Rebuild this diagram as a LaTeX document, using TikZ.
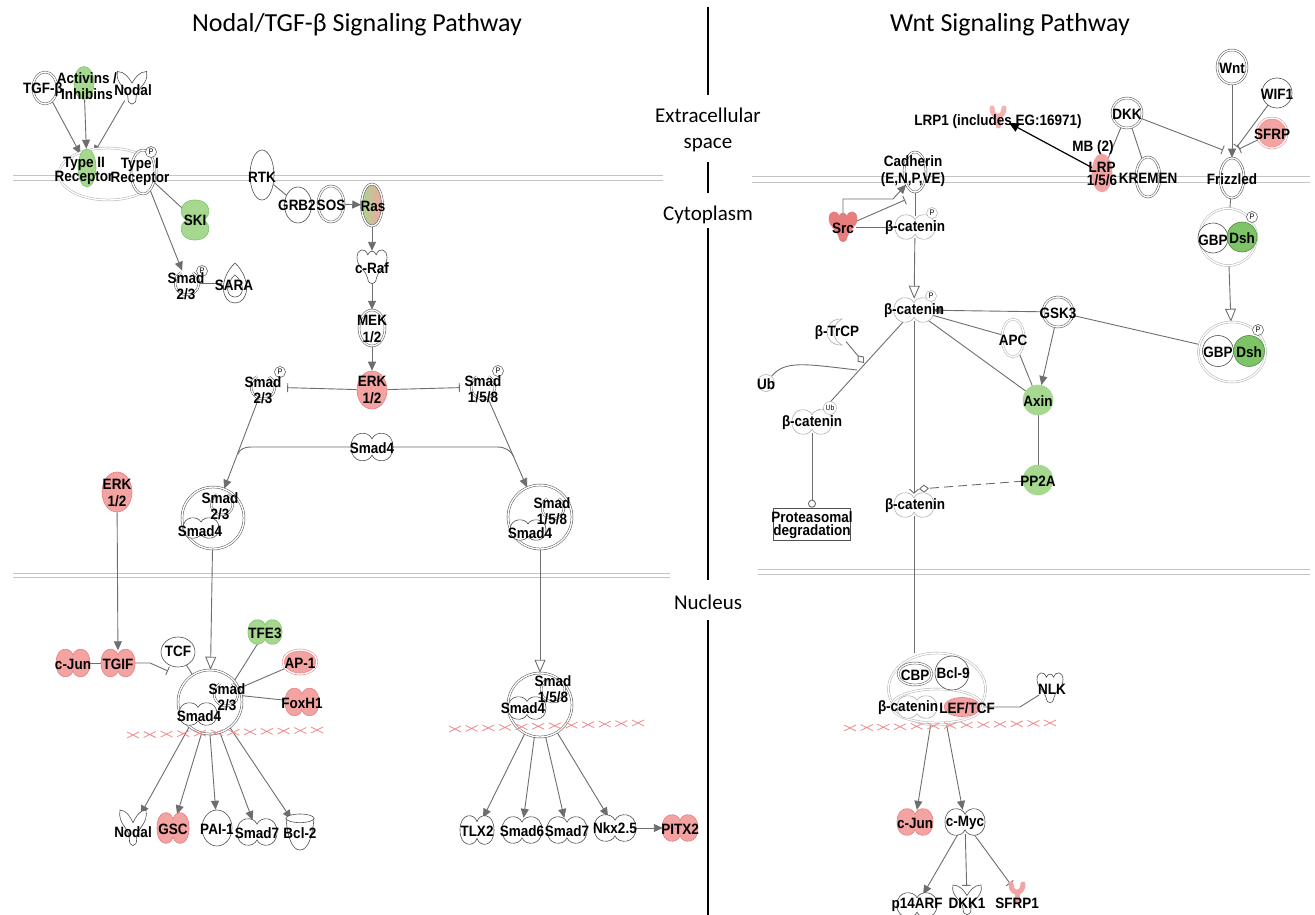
\documentclass[tikz,border=0pt]{standalone}
\usepackage{fontspec}
\setmainfont{Liberation Sans}
\newfontfamily\nf[FakeStretch=0.9]{Liberation Sans}
\newfontfamily\tf{Carlito}
\usetikzlibrary{arrows.meta,shapes.geometric}
\pgfdeclarelayer{paper}
\pgfdeclarelayer{bg}
\pgfsetlayers{paper,bg,main}
\definecolor{lc}{HTML}{6E6E6E}
\definecolor{oc}{HTML}{505050}
\definecolor{lg}{HTML}{B0B0B0}
\definecolor{mem}{HTML}{C4C4C4}
\definecolor{gfill}{HTML}{A6D98F}
\definecolor{gdark}{HTML}{7CC466}
\definecolor{pfill}{HTML}{F4A3A3}
\definecolor{pdark}{HTML}{E77D7D}
\definecolor{xred}{HTML}{F08A8A}
\tikzset{
 lbl/.style={font=\nf\bfseries\fontsize{15}{16.5}\selectfont, inner sep=0, align=center, text=black},
 tight/.style={font=\nf\bfseries\fontsize{15}{13.5}\selectfont},
 ttl/.style={font=\tf\fontsize{26}{28}\selectfont, inner sep=0},
 cmp/.style={font=\tf\fontsize{21}{26}\selectfont, inner sep=0, align=center},
 ent/.style={ellipse, inner sep=0, draw=oc, line width=0.6pt, fill=white},
 dbl/.style={ent, double=white, double distance=1.4pt, line width=0.5pt},
 ldbl/.style={dbl, draw=lg},
 anc/.style={ellipse, inner sep=0, draw=none},
 pc/.style={circle, draw=oc, fill=white, line width=0.5pt, inner sep=0, minimum size=11pt, font=\nf\fontsize{8}{8}\selectfont},
 con/.style={draw=lc, line width=0.9pt},
 act/.style={con, -{Triangle[length=9pt,width=8pt]}},
 opn/.style={con, -{Triangle[open,length=13pt,width=11pt,fill=white]}},
 inh/.style={con, -{Bar[width=9pt]}},
 mb/.style={draw=mem, line width=0.9pt},
 sz/.style 2 args={minimum width=#1pt, minimum height=#2pt},
 pics/pea/.style n args={4}{code={
   \draw[draw=#4, line width=0.6pt, fill=#3] (-#1/2,0) .. controls (-#1/2,-#2*0.62) and (-#1*0.08,-#2*0.62) .. (0,-#2*0.3) .. controls (#1*0.08,-#2*0.62) and (#1/2,-#2*0.62) .. (#1/2,0) .. controls (#1/2,#2*0.62) and (#1*0.08,#2*0.62) .. (0,#2*0.3) .. controls (-#1*0.08,#2*0.62) and (-#1/2,#2*0.62) .. cycle;
 }},
 pics/kin/.style n args={4}{code={
   \draw[draw=#4, line width=0.6pt, fill=#3] (-#1*0.5,-#2*0.28) .. controls (-#1*0.5,-#2*0.55) and (-#1*0.22,-#2*0.58) .. (-#1*0.14,-#2*0.36) .. controls (-#1*0.08,-#2*0.5) and (#1*0.08,-#2*0.5) .. (#1*0.14,-#2*0.36) .. controls (#1*0.22,-#2*0.58) and (#1*0.5,-#2*0.55) .. (#1*0.5,-#2*0.28) .. controls (#1*0.5,#2*0.02) and (#1*0.18,#2*0.1) .. (#1*0.15,#2*0.32) .. controls (#1*0.12,#2*0.55) and (-#1*0.12,#2*0.55) .. (-#1*0.15,#2*0.32) .. controls (-#1*0.18,#2*0.1) and (-#1*0.5,#2*0.02) .. cycle;
 }},
 pics/gf/.style n args={4}{code={
   \draw[draw=#4, line width=0.6pt, fill=#3] (-#1*0.5,-#2*0.5) .. controls (-#1*0.25,-#2*0.5) and (-#1*0.1,-#2*0.3) .. (0,-#2*0.15) .. controls (#1*0.1,-#2*0.3) and (#1*0.25,-#2*0.5) .. (#1*0.5,-#2*0.5) .. controls (#1*0.6,-#2*0.1) and (#1*0.12,0) .. (#1*0.14,#2*0.3) .. controls (#1*0.16,#2*0.55) and (-#1*0.16,#2*0.55) .. (-#1*0.14,#2*0.3) .. controls (-#1*0.12,0) and (-#1*0.6,-#2*0.1) .. cycle;
 }},
 pics/sm/.style={code={
   \draw[draw=oc, line width=0.5pt, double=white, double distance=1.3pt] (-60:#1) arc[start angle=-60, end angle=240, radius=#1];
 }},
 pics/td/.style 2 args={code={
   \draw[draw=oc, line width=0.6pt, fill=white] (0,-#2*0.5) .. controls (#1*0.6,-#2*0.1) and (#1*0.5,#2*0.5) .. (0,#2*0.5) .. controls (-#1*0.5,#2*0.5) and (-#1*0.6,-#2*0.1) .. cycle;
   \draw[draw=oc, line width=0.6pt] (0,-#2*0.2) .. controls (#1*0.4,#2*0.05) and (#1*0.3,#2*0.35) .. (0,#2*0.35) .. controls (-#1*0.3,#2*0.35) and (-#1*0.4,#2*0.05) .. cycle;
 }},
 pics/cup/.style 2 args={code={
   \draw[draw=oc, line width=0.6pt, fill=white] (-#1*0.5,-#2*0.38) .. controls (-#1*0.45,#2*0.1) and (-#1*0.3,#2*0.5) .. (0,#2*0.5) .. controls (#1*0.3,#2*0.5) and (#1*0.45,#2*0.1) .. (#1*0.5,-#2*0.38);
   \draw[draw=oc, line width=0.6pt, fill=white] (0,-#2*0.38) ellipse[x radius=#1*0.5, y radius=#2*0.12];
 }},
 pics/yr/.style={code={
   \draw[#1, line width=5pt, line cap=round] (-6,-9) .. controls (-6,2) and (6,2) .. (6,-9);
   \draw[#1, line width=5pt, line cap=round] (0,-1) -- (0,9);
 }},
 pics/cres/.style={code={
   \draw[draw=lg, line width=0.6pt, fill=white] (4,-13) .. controls (-16,-14) and (-16,14) .. (4,13) .. controls (-7,7) and (-7,-7) .. cycle;
 }},
}
\newcommand\xrow[5]{%
 \foreach \i in {0,...,#5}{%
   \pgfmathsetmacro\cx{#1+\i*(#3-#1)/#5}%
   \pgfmathsetmacro\cy{#2+\i*(#4-#2)/#5}%
   \draw[xred, line width=0.8pt] (\cx-6,\cy-3) -- (\cx+6,\cy+3) (\cx-6,\cy+3) -- (\cx+6,\cy-3);
 }}
\begin{document}
\begin{tikzpicture}[x=1pt,y=-1pt]
\useasboundingbox (0,0) rectangle (1315,915);
\begin{pgfonlayer}{paper}
\fill[white] (0,0) rectangle (1315,915);
\end{pgfonlayer}

% ---------- titles and compartments
\node[ttl] (tleft) at (357,25) {Nodal/TGF-β Signaling Pathway};
\node[ttl] (tright) at (1010,25) {Wnt Signaling Pathway};
\node[cmp] (cext) at (708,130) {Extracellular\\space};
\node[cmp] (ccyt) at (708,215) {Cytoplasm};
\node[cmp] (cnuc) at (708,602) {Nucleus};

% ---------- LEFT: receptors
\node[dbl, sz={24}{32}] (tgfb) at (45,88) {};
\node[ent, fill=gfill, draw=gdark, sz={20}{33}] (act) at (84,83) {};
\pic at (132,88) {gf={29}{33}{white}{oc}};
\node[anc, sz={26}{30}] (nodal1) at (132,88) {};
\node[ldbl, sz={98}{52}] (rc) at (108,174) {};
\node[ent, fill=gfill, draw=gdark, sz={18}{38}] (t2) at (87,168) {};
\node[dbl, sz={24}{44}] (t1) at (143,172) {};
\node[pc] (t1p) at (151,152) {P};
\pic[rotate=90] at (195,220) {pea={40}{27}{gfill}{gdark}};
\node[anc, sz={26}{38}] (ski) at (195,220) {};
\pic at (187,283) {sm=12};
\node[anc, sz={26}{26}] (s23a) at (187,283) {};
\node[pc] (s23ap) at (202,271) {P};
\pic at (235,283) {td={28}{40}};
\node[anc, sz={26}{38}] (sara) at (235,283) {};

% RTK cascade
\node[ent, sz={24}{50}] (rtk) at (262,175) {};
\node[ent, sz={27}{36}] (grb2) at (298,205) {};
\node[dbl, sz={26}{36}] (sos) at (331,204) {};
\node[dbl, left color=gfill, right color=pfill, sz={21}{42}] (ras) at (372,205) {};
\pic at (372,267) {kin={30}{34}{white}{oc}};
\node[anc, sz={26}{32}] (craf) at (372,267) {};
\node[dbl, sz={26}{36}] (mek) at (372,328) {};
\node[ent, fill=pfill, draw=pdark, sz={30}{38}] (erk) at (372,390) {};

% Smads
\pic at (263,387) {sm=12};
\node[anc, sz={26}{26}] (s23b) at (263,387) {};
\node[pc] (s23bp) at (280,372) {P};
\pic at (483,387) {sm=12};
\node[anc, sz={26}{26}] (s158a) at (483,387) {};
\node[pc] (s158ap) at (498,371) {P};
\pic at (372,447) {pea={42}{27}{white}{oc}};
\node[anc, sz={40}{25}] (smad4) at (372,447) {};

\node[dbl, circle, minimum size=62pt] (cplx1) at (213,518) {};
\pic at (222,504) {sm=11};
\pic at (201,528) {pea={36}{20}{white}{oc}};
\node[dbl, circle, minimum size=64pt] (cplx2) at (540,517) {};
\pic at (553,508) {sm=11};
\pic at (528,530) {pea={36}{20}{white}{oc}};

\node[ent, fill=pfill, draw=pdark, sz={30}{40}] (erk2) at (117,492) {};

% nucleus left
\pic at (73,663) {pea={34}{27}{pfill}{pdark}};
\node[anc, sz={32}{25}] (cjun) at (73,663) {};
\pic at (118,663) {pea={34}{27}{pfill}{pdark}};
\node[anc, sz={32}{25}] (tgif) at (118,663) {};
\node[ent, sz={34}{30}] (tcf) at (178,652) {};
\node[dbl, circle, minimum size=64pt] (cplx3) at (210,702) {};
\pic at (226,694) {sm=12};
\node[anc, sz={24}{24}] (s23c) at (226,694) {};
\pic at (198,714) {pea={38}{22}{white}{oc}};
\pic at (265,632) {pea={34}{24}{gfill}{gdark}};
\node[anc, sz={32}{22}] (tfe3) at (265,632) {};
\node[dbl, fill=pfill, draw=pdark, sz={34}{24}] (ap1) at (300,662) {};
\pic at (302,702) {pea={34}{27}{pfill}{pdark}};
\node[anc, sz={32}{25}] (foxh1) at (302,702) {};

\pic at (133,828) {gf={26}{36}{white}{oc}};
\node[anc, sz={24}{34}] (nodal2) at (133,828) {};
\pic at (173,828) {pea={32}{30}{pfill}{pdark}};
\node[anc, sz={30}{28}] (gsc) at (173,828) {};
\node[ent, sz={30}{36}] (pai1) at (217,828) {};
\pic at (257,832) {pea={40}{26}{white}{oc}};
\node[anc, sz={38}{24}] (smad7a) at (257,832) {};
\pic at (300,832) {cup={28}{36}};
\node[anc, sz={26}{34}] (bcl2) at (300,832) {};

% nucleus middle
\node[dbl, circle, minimum size=64pt] (cplx4) at (540,705) {};
\pic at (553,690) {sm=12};
\pic at (527,708) {pea={38}{22}{white}{oc}};
\pic at (477,830) {pea={34}{28}{white}{oc}};
\node[anc, sz={32}{26}] (tlx2) at (477,830) {};
\pic at (522,830) {pea={40}{26}{white}{oc}};
\node[anc, sz={38}{24}] (smad6) at (522,830) {};
\pic at (567,830) {pea={40}{26}{white}{oc}};
\node[anc, sz={38}{24}] (smad7b) at (567,830) {};
\pic at (615,828) {pea={42}{26}{white}{oc}};
\node[anc, sz={40}{24}] (nkx) at (615,828) {};
\pic at (680,828) {pea={36}{26}{pfill}{pdark}};
\node[anc, sz={34}{24}] (pitx2) at (680,828) {};

% ---------- RIGHT: Wnt
\node[dbl, sz={30}{34}] (wnt) at (1232,67) {};
\node[ent, circle, minimum size=30pt] (wif1) at (1277,93) {};
\node[dbl, circle, fill=pfill, draw=pdark, minimum size=30pt] (sfrp) at (1272,133) {};
\node[dbl, circle, minimum size=30pt] (dkk) at (1127,113) {};
\pic at (998,117) {yr=pfill!85!white};
\node[anc, sz={24}{26}] (lrp1) at (998,117) {};
\node[ent, fill=pfill, draw=pfill, sz={20}{38}] (lrp) at (1102,173) {};
\node[dbl, sz={24}{40}] (kremen) at (1148,177) {};
\node[dbl, sz={24}{40}] (fzd) at (1232,178) {};
\node[dbl, sz={22}{40}] (cad) at (915,172) {};
\pic at (843,227) {kin={28}{30}{pdark}{pdark}};
\node[anc, sz={26}{28}] (src) at (843,227) {};
\pic at (915,227) {pea={40}{24}{white}{lg}};
\node[anc, sz={38}{22}] (bc1) at (915,227) {};
\node[pc, draw=lg] (bc1p) at (932,213) {P};

\node[ldbl, circle, minimum size=57pt] (dc1) at (1228,237) {};
\node[ent, circle, minimum size=30pt] (gbp1) at (1213,238) {};
\node[ent, circle, fill=gdark, draw=gdark!70!black, minimum size=30pt] (dsh1) at (1242,237) {};
\node[pc] (dsh1p) at (1252,217) {P};

\pic at (914,310) {pea={40}{24}{white}{lg}};
\node[anc, sz={38}{22}] (bc2) at (914,310) {};
\node[pc, draw=lg] (bc2p) at (931,296) {P};
\pic at (838,332) {cres};
\node[anc, sz={22}{28}] (btrcp) at (838,332) {};
\node[ent, circle, draw=lg, minimum size=17pt] (ub) at (766,383) {};
\pic at (812,422) {pea={40}{24}{white}{lg}};
\node[anc, sz={38}{22}] (bc3) at (812,422) {};
\node[pc, draw=lg, minimum size=13pt, font=\nf\fontsize{7.5}{8}\selectfont] (bc3u) at (830,408) {Ub};
\node[draw=oc, line width=0.6pt, minimum width=77pt, minimum height=32pt, inner sep=0] (prot) at (812,524) {};
\pic at (914,505) {pea={40}{24}{white}{lg}};
\node[anc, sz={38}{22}] (bc4) at (914,505) {};
\node[ldbl, sz={22}{38}] (apc) at (1013,338) {};
\node[dbl, circle, minimum size=30pt] (gsk3) at (1058,312) {};
\node[ent, circle, fill=gfill, draw=gfill, minimum size=30pt] (axin) at (1038,400) {};
\node[ent, circle, fill=gfill, draw=gfill, minimum size=30pt] (pp2a) at (1038,480) {};
\node[ldbl, sz={67}{60}] (dc2) at (1232,352) {};
\node[ent, circle, minimum size=31pt] (gbp2) at (1218,351) {};
\node[ent, circle, fill=gdark, draw=gdark!70!black, minimum size=31pt] (dsh2) at (1249,351) {};
\node[pc] (dsh2p) at (1258,330) {P};

% nucleus right
\node[ldbl, sz={97}{72}] (ncx) at (937,689) {};
\node[ldbl, sz={91}{34}] (ncin) at (937,706) {};
\node[dbl, sz={34}{22}] (cbp) at (915,674) {};
\node[ent, circle, minimum size=34pt] (bcl9) at (952,673) {};
\pic at (917,707) {pea={40}{22}{white}{lg}};
\node[ent, fill=pfill, draw=pdark, sz={36}{19}] (lef) at (962,707) {};
\pic at (1050,688) {kin={26}{30}{white}{oc}};
\node[anc, sz={24}{28}] (nlk) at (1050,688) {};
\pic at (915,822) {pea={36}{26}{pfill}{pdark}};
\node[anc, sz={34}{24}] (cjun2) at (915,822) {};
\pic at (965,822) {pea={40}{26}{white}{oc}};
\node[anc, sz={38}{24}] (cmyc) at (965,822) {};
\pic at (917,905) {pea={40}{24}{white}{oc}};
\node[anc, sz={38}{22}] (p14) at (917,905) {};
\pic at (967,900) {gf={28}{30}{white}{oc}};
\node[anc, sz={26}{28}] (dkk1) at (967,900) {};
\pic at (1017,893) {yr=pfill};
\node[anc, sz={22}{24}] (sfrp1) at (1017,893) {};

% ---------- labels
\node[lbl] (tgfbl) at (43,90) {TGF-β};
\node[lbl] (actl) at (87,86) {Activins /\\Inhibins};
\node[lbl] (nodal1l) at (133,90) {Nodal};
\node[lbl, tight] (t2l) at (84,171) {Type II\\Receptor};
\node[lbl, tight] (t1l) at (140,172) {Type I\\Receptor};
\node[lbl] (skil) at (195,220) {SKI};
\node[lbl] (s23al) at (186,286) {Smad\\2/3};
\node[lbl] (saral) at (234,285) {SARA};
\node[lbl] (rtkl) at (262,177) {RTK};
\node[lbl] (grb2l) at (297,205) {GRB2};
\node[lbl] (sosl) at (331,205) {SOS};
\node[lbl] (rasl) at (373,206) {Ras};
\node[lbl] (crafl) at (372,268) {c-Raf};
\node[lbl] (mekl) at (372,329) {MEK\\1/2};
\node[lbl] (erkl) at (372,390) {ERK\\1/2};
\node[lbl] (s23bl) at (263,390) {Smad\\2/3};
\node[lbl] (s158al) at (483,389) {Smad\\1/5/8};
\node[lbl] (smad4l) at (372,448) {Smad4};
\node[lbl] (c1l) at (220,506) {Smad\\2/3};
\node[lbl] (c1l4) at (200,531) {Smad4};
\node[lbl] (c2l) at (552,511) {Smad\\1/5/8};
\node[lbl] (c2l4) at (530,533) {Smad4};
\node[lbl] (erk2l) at (117,493) {ERK\\1/2};
\node[lbl] (cjunl) at (73,664) {c-Jun};
\node[lbl] (tgifl) at (118,664) {TGIF};
\node[lbl] (tcfl) at (178,651) {TCF};
\node[lbl] (c3l) at (227,697) {Smad\\2/3};
\node[lbl] (c3l4) at (199,716) {Smad4};
\node[lbl] (tfe3l) at (265,633) {TFE3};
\node[lbl] (ap1l) at (300,663) {AP-1};
\node[lbl] (foxh1l) at (302,703) {FoxH1};
\node[lbl] (nodal2l) at (133,832) {Nodal};
\node[lbl] (gscl) at (173,829) {GSC};
\node[lbl] (pai1l) at (217,829) {PAI-1};
\node[lbl] (smad7al) at (257,833) {Smad7};
\node[lbl] (bcl2l) at (300,833) {Bcl-2};
\node[lbl] (c4l) at (553,689) {Smad\\1/5/8};
\node[lbl] (c4l4) at (523,708) {Smad4};
\node[lbl] (tlx2l) at (477,831) {TLX2};
\node[lbl] (smad6l) at (522,831) {Smad6};
\node[lbl] (smad7bl) at (567,831) {Smad7};
\node[lbl] (nkxl) at (615,828) {Nkx2.5};
\node[lbl] (pitx2l) at (680,829) {PITX2};

\node[lbl] (wntl) at (1232,68) {Wnt};
\node[lbl] (wif1l) at (1277,94) {WIF1};
\node[lbl] (sfrpl) at (1272,134) {SFRP};
\node[lbl] (dkkl) at (1127,114) {DKK};
\node[lbl] (lrp1l) at (998,122) {LRP1 (includes EG:16971)};
\node[lbl] (mbl) at (1093,148) {MB (2)};
\node[lbl, tight] (lrpl) at (1102,174) {LRP\\1/5/6};
\node[lbl] (kremenl) at (1148,178) {KREMEN};
\node[lbl] (fzdl) at (1232,179) {Frizzled};
\node[lbl] (cadl) at (913,171) {Cadherin\\(E,N,P,VE)};
\node[lbl] (srcl) at (843,228) {Src};
\node[lbl] (bc1l) at (915,228) {β-catenin};
\node[lbl] (gbp1l) at (1213,240) {GBP};
\node[lbl] (dsh1l) at (1242,238) {Dsh};
\node[lbl] (bc2l) at (914,311) {β-catenin};
\node[lbl] (btrcpl) at (837,333) {β-TrCP};
\node[lbl] (ubl) at (766,384) {Ub};
\node[lbl] (bc3l) at (812,423) {β-catenin};
\node[lbl, tight] (protl) at (812,525) {Proteasomal\\degradation};
\node[lbl] (bc4l) at (915,506) {β-catenin};
\node[lbl] (apcl) at (1013,340) {APC};
\node[lbl] (gsk3l) at (1058,313) {GSK3};
\node[lbl] (axinl) at (1038,401) {Axin};
\node[lbl] (pp2al) at (1038,481) {PP2A};
\node[lbl] (gbp2l) at (1218,352) {GBP};
\node[lbl] (dsh2l) at (1249,352) {Dsh};
\node[lbl] (cbpl) at (915,675) {CBP};
\node[lbl] (bcl9l) at (953,673) {Bcl-9};
\node[lbl] (bcnl) at (908,708) {β-catenin};
\node[lbl] (lefl) at (967,708) {LEF/TCF};
\node[lbl] (nlkl) at (1052,689) {NLK};
\node[lbl] (cjun2l) at (915,823) {c-Jun};
\node[lbl] (cmycl) at (965,823) {c-Myc};
\node[lbl] (p14l) at (917,905) {p14ARF};
\node[lbl] (dkk1l) at (967,903) {DKK1};
\node[lbl] (sfrp1l) at (1017,903) {SFRP1};

% junction coordinates
\coordinate (j1) at (238,454);
\coordinate (j2) at (514,457);
\coordinate (tgbar) at (168,671);
\coordinate (fzA) at (1223,150);
\coordinate (fzB) at (1237,147);
\coordinate (fzC) at (1239,149);
\coordinate (srcbar) at (905,200);
\coordinate (dia1) at (864,363);
\coordinate (ubj) at (857,370);
\coordinate (dia2) at (919,489);

% ---------- background: membranes, divider, connectors
\begin{pgfonlayer}{bg}
\draw[mb] (13,175) -- (663,175) (13,180) -- (663,180);
\draw[mb] (752,176) -- (1310,176) (752,182) -- (1310,182);
\draw[mb] (13,573) -- (670,573) (13,577) -- (670,577);
\draw[mb] (758,569) -- (1310,569) (758,574) -- (1310,574);
\draw[black, line width=1.2pt] (708,7) -- (708,95) (708,162) -- (708,193) (708,228) -- (708,580) (708,620) -- (708,915);

\draw[act] (tgfb) -- (t2.115);
\draw[act] (act) -- (t2);
\draw[act] (nodal1) -- (t2.65);
\draw[con] (t1) -- (ski);
\draw[act] (t1) -- (s23a);
\draw[con] (s23a) -- (sara);
\draw[con] (rtk) -- (grb2);
\draw[act] (sos) -- (ras);
\draw[act] (ras) -- (craf);
\draw[act] (craf) -- (mek);
\draw[act] (mek) -- (erk);
\draw[inh, shorten >=11pt] (erk) -- (s23b);
\draw[inh, shorten >=10pt] (erk) -- (s158a);
\draw[act] (s23b) -- (cplx1);
\draw[act] (s158a) -- (cplx2);
\draw[con] (smad4) -- (252,447) .. controls (244,447) and (240,449) .. (j1);
\draw[con] (smad4) -- (497,447) .. controls (506,447) and (511,451) .. (j2);
\draw[act] (erk2) -- (tgif);
\draw[con] (cjun) -- (tgif);
\draw[inh] (tgif) -- (150,663) -- (tgbar);
\draw[con] (tcf) -- (cplx3);
\draw[opn] (cplx1) -- (cplx3);
\draw[con] (tfe3) -- (s23c);
\draw[con] (ap1) -- (s23c);
\draw[con] (foxh1) -- (s23c);
\draw[act] (cplx3.-130) -- (nodal2);
\draw[act] (cplx3.-105) -- (gsc);
\draw[act] (cplx3.-90) -- (pai1);
\draw[act] (cplx3.-72) -- (smad7a);
\draw[act] (cplx3.-52) -- (bcl2);
\draw[opn] (cplx2) -- (cplx4);
\draw[act] (cplx4.-118) -- (tlx2);
\draw[act] (cplx4.-100) -- (smad6);
\draw[act] (cplx4.-80) -- (smad7b);
\draw[act] (cplx4.-58) -- (nkx);
\draw[act] (nkx) -- (pitx2);

\draw[act] (wnt) -- (fzd);
\draw[inh] (dkk) -- (fzA);
\draw[inh] (wif1) -- (fzB);
\draw[inh] (sfrp) -- (fzC);
\draw[con] (dkk) -- (lrp);
\draw[con] (dkk) -- (kremen);
\draw[black, line width=1.2pt, -{Triangle[length=10pt,width=9pt]}] (lrp) -- (lrp1);
\draw[act] (src.north) -- (843,199) -- (893,199) -- (cad.-125);
\draw[inh] (src) -- (srcbar);
\draw[con] (src) -- (bc1);
\draw[con] (cad) -- (bc1);
\draw[opn] (bc1) -- (bc2);
\draw[con, -{Bar[width=7pt]}] (bc2) -- (bc3);
\draw[con, -{Diamond[open,length=10pt,width=8pt,fill=white]}] (btrcp) -- (dia1);
\draw[con] (ub) .. controls (785,360) and (805,364) .. (ubj);
\draw[con, -{Circle[open,length=8pt,fill=white]}] (bc3) -- (prot);
\draw[con, -{Straight Barb[length=4pt,width=9pt]}] (bc2) -- (bc4);
\draw[con, dash pattern=on 9pt off 5pt, -{Diamond[open,length=10pt,width=8pt,fill=white]}] (pp2a) -- (dia2);
\draw[con] (bc4) -- (bc4 |- ncx.north);
\draw[act] (gsk3) -- (bc2);
\draw[act] (gsk3) -- (axin);
\draw[con] (bc2) -- (apc);
\draw[con] (bc2) -- (axin);
\draw[con] (apc) -- (axin);
\draw[con] (axin) -- (pp2a);
\draw[con] (fzd) -- (dc1);
\draw[opn] (dc1) -- (dc2);
\draw[inh] (dc2) -- (gsk3);
\draw[con] (lef) -- (1020,707) -- (nlk);
\draw[act] (ncx.-100) -- (cjun2);
\draw[act] (ncx.-75) -- (cmyc);
\draw[act] (cmyc) -- (p14);
\draw[inh] (cmyc) -- (dkk1);
\draw[inh] (cmyc) -- (sfrp1);
\end{pgfonlayer}

% ---------- red crosses (DNA)
\xrow{133}{735}{317}{730}{11}
\xrow{455}{729}{638}{723}{11}
\xrow{850}{728}{1050}{723}{12}
\end{tikzpicture}
\end{document}
